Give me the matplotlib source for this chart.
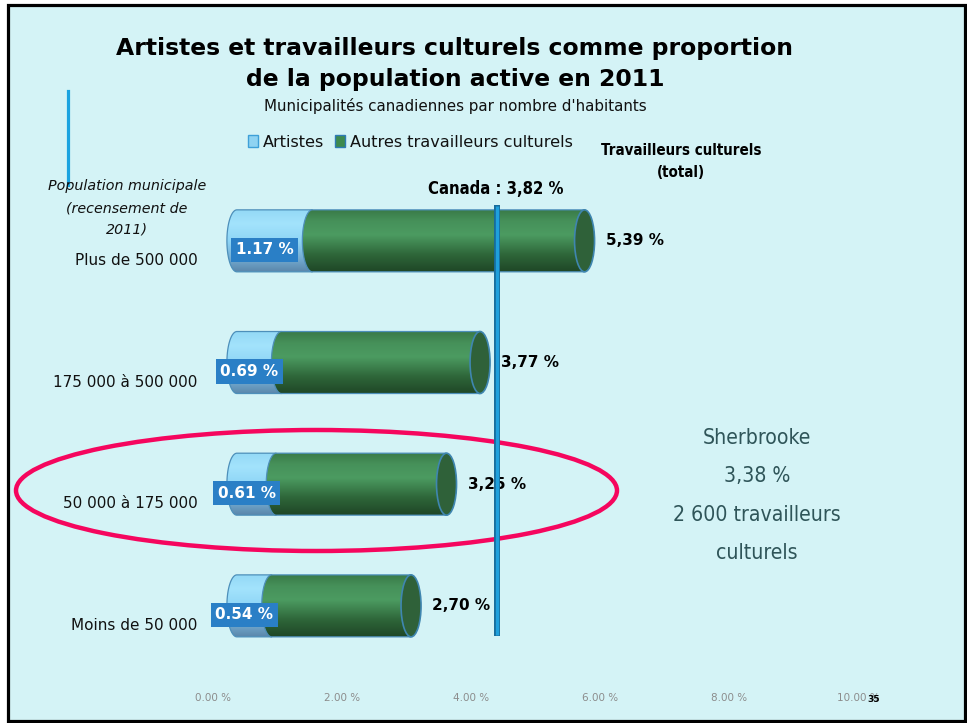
import numpy as np
import matplotlib
matplotlib.use("Agg")
import matplotlib.pyplot as plt
from matplotlib.patches import Ellipse, Rectangle, Polygon
from matplotlib.lines import Line2D
from matplotlib.colors import LinearSegmentedColormap
from matplotlib.transforms import ScaledTranslation

# ---------------- data ----------------
categories = ["Plus de 500 000", "175 000 à 500 000", "50 000 à 175 000", "Moins de 50 000"]
artistes = [1.17, 0.69, 0.61, 0.54]
totaux = [5.39, 3.77, 3.25, 2.70]
artist_labels = ["1.17 %", "0.69 %", "0.61 %", "0.54 %"]
total_labels = ["5,39 %", "3,77 %", "3,25 %", "2,70 %"]
xticks = [0, 2, 4, 6, 8, 10]
xtick_labels = ["0.00 %", "2.00 %", "4.00 %", "6.00 %", "8.00 %", "10.00 %"]
canada = 3.82
canada_label = "Canada : 3,82 %"
sherbrooke_lines = ["Sherbrooke", "3,38 %", "2 600 travailleurs", "culturels"]
highlight = 2

title_lines = ["Artistes et travailleurs culturels comme proportion",
               "de la population active en 2011"]
subtitle = "Municipalités canadiennes par nombre d'habitants"
legend_names = ["Artistes", "Autres travailleurs culturels"]
axis_title = ["Population municipale", "(recensement de", "2011)"]
total_title = ["Travailleurs culturels", "(total)"]

# ---------------- layout ----------------
W, H = 967, 723
fig = plt.figure(figsize=(W / 100, H / 100), dpi=100)
fig.patch.set_facecolor("white")

def fx(px):
    return px / W

def fy(py):
    return 1 - py / H

BG = "#d4f3f6"
fig.patches.append(Rectangle((fx(8), fy(721)), (965 - 8) / W, (721 - 5) / H,
                             transform=fig.transFigure, facecolor=BG,
                             edgecolor="black", linewidth=2.3, zorder=-5))

S = 64.5            # px per unit
X0 = 236.9          # px of value 0
xmin, xmax = -0.4, 10.4
ax_left = X0 + xmin * S
ax_w = (xmax - xmin) * S
ax_top, ax_h = 180.0, 486.7
ypos = [3, 2, 1, 0]

ax = fig.add_axes([fx(ax_left), fy(ax_top + ax_h), ax_w / W, ax_h / H])
ax.set_facecolor("none")
for s in ax.spines.values():
    s.set_visible(False)
ax.set_xticks([])
ax.set_yticks([])

# back-plane axis (3D depth offset) carrying tick labels
depth = 24
ax2 = fig.add_axes([fx(ax_left - depth), fy(ax_top + ax_h + depth), ax_w / W, ax_h / H],
                   zorder=-1)
ax2.set_facecolor("none")
for s in ax2.spines.values():
    s.set_visible(False)
ax2.set_xlim(xmin, xmax)
ax2.set_ylim(-0.5, 3.5)
ax2.set_xticks(xticks, xtick_labels, color="#8c8c8c", fontsize=7.5)
ax2.set_yticks(ypos, categories, va="baseline", fontsize=11, color="#111111")
ax2.tick_params(axis="x", length=0, pad=1.5)
ax2.tick_params(axis="y", length=0, pad=-7.5)

h = 62 / 121.7
w = 20 / S

blue_cmap = LinearSegmentedColormap.from_list(
    "b", [(0, "#5a86aa"), (0.22, "#74acd2"), (0.5, "#8ed5f6"), (0.78, "#a3e3fc"), (1, "#94d9f6")])
green_cmap = LinearSegmentedColormap.from_list(
    "g", [(0, "#1f4626"), (0.28, "#2e6639"), (0.6, "#4c9b61"), (0.82, "#46915a"), (1, "#3a7b48")])
grad = np.linspace(0, 1, 256).reshape(-1, 1)


def segment(x0, x1, yc, cmap, z):
    th = np.linspace(np.pi / 2, 3 * np.pi / 2, 60)
    xs = x0 + (w / 2) * np.cos(th)
    ys = yc + (h / 2) * np.sin(th)
    verts = list(zip(xs, ys)) + [(x1, yc - h / 2), (x1, yc + h / 2)]
    clip = Polygon(verts, closed=True, transform=ax.transData, facecolor="none")
    im = ax.imshow(grad, cmap=cmap, extent=(x0 - w / 2, x1, yc - h / 2, yc + h / 2),
                   origin="lower", aspect="auto", interpolation="bicubic", zorder=z)
    im.set_clip_path(clip)
    ax.add_patch(Polygon(verts, closed=True, fill=False, edgecolor="#4d8fba",
                         linewidth=0.9, zorder=z + 0.1))


for i, (a, t, yc) in enumerate(zip(artistes, totaux, ypos)):
    segment(0, a, yc, blue_cmap, 2)
    segment(a, t, yc, green_cmap, 3)
    ax.add_patch(Ellipse((t, yc), w, h, facecolor="#2f6139", edgecolor="#3f86b0",
                         linewidth=1.2, zorder=3.5))
    ax.annotate(artist_labels[i], xy=(a / 2, yc), xytext=(-10, -9),
                textcoords="offset pixels", ha="center", va="center",
                color="white", fontweight="bold", fontsize=11, zorder=6,
                bbox=dict(boxstyle="square,pad=0.3", facecolor="#2a7fc6", edgecolor="none"))
    ax.annotate(total_labels[i], xy=(t, yc), xytext=(21, 0),
                textcoords="offset pixels", ha="left", va="center",
                color="black", fontweight="bold", fontsize=11, zorder=6)

ax.set_xlim(xmin, xmax)
ax.set_ylim(-0.5, 3.5)

# Canada line
line_tr = ax.get_xaxis_transform() + ScaledTranslation(14 / 100, 0, fig.dpi_scale_trans)
ax.plot([canada, canada], [(ax_top + ax_h - 636) / ax_h, (ax_top + ax_h - 205) / ax_h],
        transform=line_tr, color="#176c9c", linewidth=4.3, solid_capstyle="butt", zorder=7)
ax.plot([canada, canada], [(ax_top + ax_h - 635) / ax_h, (ax_top + ax_h - 206) / ax_h],
        transform=line_tr, color="#1fa0dc", linewidth=2.4, solid_capstyle="butt", zorder=7.1)

# highlight ellipse
ax.add_patch(Ellipse((fx(316.5), fy(490.5)), 601 / W, 121 / H, transform=fig.transFigure,
                     fill=False, edgecolor="#f5065e", linewidth=3.2, clip_on=False, zorder=6.5))

# left blue vertical line
fig.lines.append(Line2D([fx(68), fx(68)], [fy(91), fy(185)], transform=fig.transFigure,
                        color="#1aa3e0", linewidth=2.3))

# titles
fig.text(fx(455), fy(55), title_lines[0], ha="center", va="baseline",
         fontsize=16.9, fontweight="bold", color="black")
fig.text(fx(455), fy(86), title_lines[1], ha="center", va="baseline",
         fontsize=16.9, fontweight="bold", color="black")
fig.text(fx(455), fy(111), subtitle, ha="center", va="baseline",
         fontsize=10.9, color="#111111")

# legend
fig.patches.append(Rectangle((fx(248), fy(147)), 10 / W, 12 / H, transform=fig.transFigure,
                             facecolor="#8fd3f2", edgecolor="#3ea0d8", linewidth=1))
fig.text(fx(263), fy(147), legend_names[0], ha="left", va="baseline", fontsize=11.6,
         color="#111111")
fig.patches.append(Rectangle((fx(335), fy(147)), 10 / W, 12 / H, transform=fig.transFigure,
                             facecolor="#3d8a4e", edgecolor="#2e7bb5", linewidth=1))
fig.text(fx(350), fy(147), legend_names[1], ha="left", va="baseline", fontsize=11.6,
         color="#111111")

# axis title (italic)
for k, (txt, yb) in enumerate(zip(axis_title, [190, 212.7, 234])):
    fig.text(fx(126.7), fy(yb), txt, ha="center", va="baseline", fontsize=10.3,
             style="italic", color="#111111")

# total title
for txt, yb in zip(total_title, [155, 176.7]):
    fig.text(fx(681), fy(yb), txt, ha="center", va="baseline", fontsize=10.8,
             fontweight="bold", fontstretch="condensed", color="black")

fig.text(fx(496), fy(194), canada_label, ha="center", va="baseline", fontsize=12,
         fontweight="bold", fontstretch="condensed", color="black")

# Sherbrooke
for k, txt in enumerate(sherbrooke_lines):
    fig.text(fx(757), fy(444 + k * 38.3), txt, ha="center", va="baseline",
             fontsize=15.2, fontstretch="condensed", color="#2f5559")

# slide number
fig.text(fx(874), fy(702), "35", ha="center", va="baseline", fontsize=6.5,
         fontweight="bold", color="black")

fig.savefig("out.png", dpi=100, facecolor=fig.get_facecolor())
